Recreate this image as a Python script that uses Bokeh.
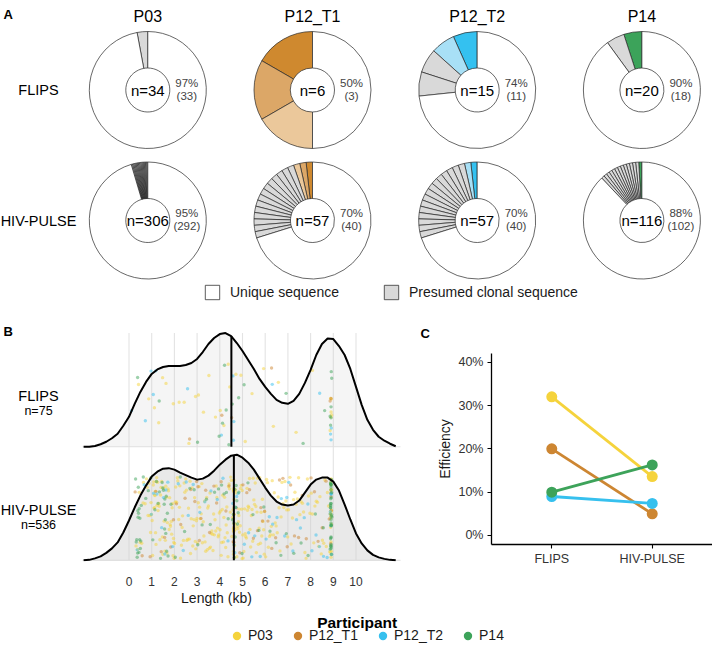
import numpy as np
from bokeh.plotting import figure
from bokeh.models import (Range1d, Label, Legend, LegendItem, FixedTicker,
                          NumeralTickFormatter, ColumnDataSource)
from bokeh.layouts import column, row
from bokeh.embed import file_html
from bokeh.resources import INLINE
from bokeh.core.properties import value

FONT = "Liberation Sans"

# ---------------------------------------------------------------- data
participants = ["P03", "P12_T1", "P12_T2", "P14"]
methods = ["FLIPS", "HIV-PULSE"]
part_colors = ["#F5D33C", "#CD8632", "#36C0EE", "#3DA35A"]

# panel A : donuts
flips_total = [34, 6, 15, 20]
flips_unique = [33, 3, 11, 18]
flips_pct = ["97%", "50%", "74%", "90%"]
flips_shared = [0, 3, 2, 1]
hiv_total = [306, 57, 57, 116]
hiv_unique = [292, 40, 40, 102]
hiv_pct = ["95%", "70%", "70%", "88%"]
hiv_shared = [0, 3, 2, 1]
shade_colors = [[], ["#CF892F", "#DCA767", "#EBC89B"], ["#34C1F0", "#A8E0F6"], ["#3CA35A"]]
clonal_grey = "#D9D9D9"

# panel B : ridge densities (relative heights) on a kb grid
density_kb = [-2.0, -1.75, -1.5, -1.25, -1.0, -0.75, -0.5, -0.25, 0.0, 0.25, 0.5, 0.75,
              1.0, 1.25, 1.5, 1.75, 2.0, 2.25, 2.5, 2.75, 3.0, 3.25, 3.5, 3.75,
              4.0, 4.25, 4.5, 4.75, 5.0, 5.25, 5.5, 5.75, 6.0, 6.25, 6.5, 6.75,
              7.0, 7.25, 7.5, 7.75, 8.0, 8.25, 8.5, 8.75, 9.0, 9.25, 9.5, 9.75,
              10.0, 10.25, 10.5, 10.75, 11.0, 11.25, 11.5, 11.75]
flips_density = [0, 0, 0.8, 2.5, 5, 8.5, 13, 21, 30, 43, 55, 65,
                 73, 77.5, 80, 81, 81, 81, 82, 84, 88, 95, 103, 109,
                 113, 114, 111, 104, 96, 87, 78, 68, 60, 53, 47, 44,
                 43, 46, 53, 64, 77, 92, 103, 108.5, 108, 101, 92, 78,
                 60, 42, 27, 17, 10, 6, 3, 0.5]
hiv_density = [0, 0.5, 2, 4, 7.5, 12, 18, 28, 40, 53, 65, 75,
               84, 89, 92, 92.5, 91, 88, 85.5, 83, 81, 82, 85, 90,
               96, 101, 105, 106, 103, 98, 91, 82, 73, 65, 59, 56,
               55, 56, 60, 68, 76, 81, 83, 83, 79, 70, 56, 41,
               27, 17, 10, 5.5, 3, 1.5, 0.5, 0]
flips_median = 4.51
hiv_median = 4.62
kb_ticks = [0, 1, 2, 3, 4, 5, 6, 7, 8, 9, 10]

# sequence lengths (kb) per participant
flips_len_p03 = [0.42, 0.87, 1.12, 1.31, 1.48, 1.63, 1.95, 2.21, 2.43, 2.64, 2.93, 3.06, 3.28,
                 3.52, 3.81, 4.02, 4.18, 4.37, 4.44, 4.71, 4.93, 5.12, 5.42, 5.93, 6.36, 6.58,
                 7.36, 8.08, 8.86, 8.9, 8.91, 8.93, 8.9, 8.88]
flips_len_p12t1 = [2.67, 4.09, 4.52, 6.28, 8.86, 8.9]
flips_len_p12t2 = [0.11, 0.72, 0.97, 1.07, 1.18, 2.58, 4.07, 4.58, 4.6, 4.62, 6.31, 8.4, 8.88,
                   8.9, 8.91]
flips_len_p14 = [0.38, 1.33, 3.02, 3.97, 4.12, 4.21, 4.28, 4.4, 4.55, 4.83, 5.07, 6.92, 7.67,
                 8.62, 8.86, 8.88, 8.9, 8.9, 8.91, 8.93]

hiv_len_p03 = [
    0.31, 0.38, 0.45, 0.49, 0.56, 0.62, 0.64, 0.71, 0.77, 0.8, 0.84, 0.88, 0.92, 0.95, 0.97, 0.99,
    1.02, 1.04, 1.07, 1.09, 1.1, 1.12, 1.13, 1.15, 1.16, 1.17, 1.19, 1.21, 1.22, 1.24, 1.26,
    1.28, 1.31, 1.33, 1.36, 1.39, 1.41, 1.44, 1.47, 1.49, 1.52, 1.55, 1.58, 1.6, 1.62, 1.65,
    1.67, 1.69, 1.72, 1.74, 1.77, 1.79, 1.81, 1.83, 1.86, 1.88, 1.9, 1.92, 1.94, 1.96, 1.97, 1.99,
    2.01, 2.04, 2.06, 2.1, 2.13, 2.15, 2.19, 2.22, 2.24, 2.27, 2.31, 2.34, 2.36, 2.4, 2.43, 2.46,
    2.5, 2.53, 2.55, 2.59, 2.62, 2.66, 2.69, 2.71, 2.74, 2.78, 2.81, 2.83, 2.86, 2.89, 2.92,
    2.94, 2.97, 2.99,
    3.02, 3.05, 3.09, 3.11, 3.14, 3.18, 3.21, 3.23, 3.27, 3.3, 3.33, 3.35, 3.38, 3.42, 3.45,
    3.47, 3.5, 3.54, 3.57, 3.59, 3.62, 3.65, 3.68, 3.7, 3.73, 3.76, 3.79, 3.82, 3.84, 3.87,
    3.9, 3.93, 3.95, 3.98,
    4.01, 4.03, 4.06, 4.08, 4.11, 4.13, 4.16, 4.18, 4.21, 4.23, 4.26, 4.28, 4.31, 4.33, 4.36,
    4.38, 4.41, 4.43, 4.46, 4.48, 4.51, 4.53, 4.56, 4.58,
    4.6, 4.61, 4.61, 4.62, 4.62, 4.62, 4.62, 4.62, 4.63, 4.63, 4.61, 4.62, 4.62, 4.63, 4.6,
    4.62, 4.61, 4.62, 4.63, 4.62,
    4.65, 4.67, 4.7, 4.72, 4.75, 4.77, 4.8, 4.82, 4.85, 4.87, 4.9, 4.92, 4.94, 4.96, 4.98,
    4.99, 4.69, 4.84,
    5.01, 5.03, 5.06, 5.09, 5.12, 5.14, 5.17, 5.2, 5.22, 5.25, 5.28, 5.31, 5.33, 5.36, 5.39,
    5.42, 5.45, 5.47, 5.5, 5.53, 5.56, 5.59, 5.61, 5.64, 5.67, 5.7, 5.73, 5.76, 5.79, 5.82,
    5.85, 5.88, 5.9, 5.93, 5.96, 5.98,
    6.02, 6.06, 6.1, 6.14, 6.19, 6.23, 6.27, 6.31, 6.36, 6.4, 6.44, 6.48, 6.53, 6.57, 6.61,
    6.65, 6.7, 6.74, 6.78, 6.82, 6.87, 6.91, 6.95, 6.99,
    7.03, 7.09, 7.14, 7.2, 7.25, 7.31, 7.36, 7.42, 7.47, 7.53, 7.58, 7.64, 7.69, 7.75, 7.8,
    7.86, 7.91, 7.97,
    8.03, 8.08, 8.14, 8.19, 8.25, 8.3, 8.36, 8.41, 8.47, 8.52, 8.58, 8.63, 8.69, 8.74, 8.79,
    8.84, 8.88, 8.89, 8.9, 8.9, 8.9, 8.91, 8.9, 8.89, 8.9, 8.91, 8.88, 8.9, 8.9, 8.89, 8.91,
    8.9, 8.9, 8.92, 8.9, 8.89]
hiv_len_p12t1 = [0.27, 0.58, 0.93, 1.18, 1.42, 1.57, 1.84, 2.09, 2.28, 2.47, 2.72, 2.9, 3.04,
                 3.17, 3.38, 3.55, 3.74, 3.86, 4.06, 4.27, 4.41, 4.59, 4.62, 4.73, 4.88, 5.02,
                 5.19, 5.31, 5.48, 5.66, 5.81, 5.97, 6.12, 6.29, 6.46, 6.63, 6.78, 6.97, 7.12,
                 7.29, 7.47, 7.63, 7.81, 8.02, 8.17, 8.33, 8.51, 8.68, 8.82, 8.88, 8.9, 8.9,
                 8.91, 2.98, 5.88, 1.96, 3.1]
hiv_len_p12t2 = [0.36, 0.67, 0.98, 1.23, 1.44, 1.52, 1.58, 1.63, 1.71, 1.92, 2.17, 2.39, 2.61,
                 2.83, 3.12, 3.34, 3.61, 3.89, 4.14, 4.36, 4.57, 4.63, 4.66, 4.69, 4.74, 4.81,
                 5.08, 5.27, 5.54, 5.78, 6.04, 6.18, 6.33, 6.52, 6.71, 6.86, 7.04, 7.22, 7.38,
                 7.55, 7.72, 7.88, 8.06, 8.24, 8.39, 8.57, 8.73, 8.87, 8.89, 8.9, 8.9, 8.91,
                 8.92, 1.08, 2.52, 5.41, 6.95]
hiv_len_p14 = [0.29, 0.32, 0.34, 0.36, 0.38, 0.39, 0.41, 0.42, 0.44, 0.45, 0.47, 0.48, 0.5,
               0.52, 0.54, 0.4, 0.63, 0.74, 0.85, 0.96, 1.05, 1.14, 1.21, 1.28, 1.34, 1.39,
               1.46, 1.49, 1.52, 1.55, 1.57, 1.6, 1.62, 1.64, 1.66, 1.69, 1.72, 1.58,
               1.85, 2.04, 2.26, 2.45, 2.68, 2.87, 3.03, 3.22, 3.41, 3.58, 3.77, 3.94, 4.08,
               4.19, 4.29, 4.37, 4.56, 4.6, 4.62, 4.64, 4.66, 4.68, 4.7, 4.72, 4.75, 4.78,
               4.81, 4.84, 4.98, 5.24, 5.46, 5.72, 5.94, 6.21, 6.48, 6.69, 6.93, 7.26, 7.58,
               7.89, 8.21, 8.56, 8.86, 8.87, 8.88, 8.88, 8.89, 8.89, 8.9, 8.9, 8.9, 8.9, 8.9,
               8.9, 8.91, 8.91, 8.91, 8.92, 8.92, 8.93, 8.87, 8.88, 8.89, 8.9, 8.9, 8.9, 8.91,
               8.91, 8.92, 8.86, 8.88, 8.89, 8.9, 8.9, 8.9, 8.91, 8.93, 8.94]

# panel C : efficiency
eff_flips = [0.32, 0.20, 0.09, 0.10]
eff_hiv = [0.136, 0.05, 0.074, 0.163]
eff_ticks = [0, 0.1, 0.2, 0.3, 0.4]

NAN1 = [np.nan]


def clean(p):
    p.outline_line_color = None
    p.grid.visible = False
    p.frame_align = False
    p.background_fill_color = "white"
    p.border_fill_color = "white"


# ---------------------------------------------------------------- panel A
A_W, A_H = 712, 304
A_UX, A_UY = 164.7, 130.5
pA = figure(width=A_W, height=A_H,
            x_range=Range1d(-147.3 / A_UX, (A_W - 147.3) / A_UX),
            y_range=Range1d(-84 / A_UY, (A_H - 84) / A_UY),
            x_axis_location=None, y_axis_location=None,
            min_border=0, output_backend="svg", toolbar_location=None)
clean(pA)

wx, wy, ws, we, wc = [], [], [], [], []
label_rows = [(flips_total, flips_unique, flips_pct, flips_shared),
              (hiv_total, hiv_unique, hiv_pct, hiv_shared)]
for ri, (tot, uni, pct, shared) in enumerate(label_rows):
    yrow = 1 - ri
    for c in range(len(participants)):
        n_cl = tot[c] - uni[c]
        step = 2 * np.pi / tot[c]
        for k in range(n_cl):
            wx.append(c); wy.append(yrow)
            ws.append(np.pi / 2 + k * step); we.append(np.pi / 2 + (k + 1) * step)
            wc.append(shade_colors[c][k] if k < shared[c] else clonal_grey)
        wx.append(c); wy.append(yrow)
        ws.append(np.pi / 2 + n_cl * step); we.append(np.pi / 2)
        wc.append("white")
wsrc = ColumnDataSource(dict(x=wx, y=wy, s=ws, e=we, c=wc))
pA.annular_wedge(x="x", y="y", inner_radius=22, outer_radius=58.5,
                 inner_radius_units="screen", outer_radius_units="screen",
                 start_angle="s", end_angle="e", fill_color="c",
                 line_color="#262626", line_width=0.7, source=wsrc)

cols = list(range(len(participants)))
pA.text(x=cols, y=[(A_H - 16 - 84) / A_UY] * 4, text=participants, text_font=value(FONT),
        text_font_size="16px", text_align="center", text_baseline="alphabetic",
        text_color="black")
pA.text(x=[(38 - 147.3) / A_UX] * 2, y=[1, 0], text=methods, text_font=value(FONT),
        text_font_size="14.5px", text_align="center", text_baseline="middle",
        text_color="black")
for ri, (tot, uni, pct, shared) in enumerate(label_rows):
    yrow = 1 - ri
    pA.text(x=cols, y=[yrow] * 4, text=[f"n={t}" for t in tot], text_font=value(FONT),
            text_font_size="15px", text_align="center", text_baseline="middle",
            text_color="black")
    pA.text(x=[c + 39 / A_UX for c in cols], y=[yrow + 7.5 / A_UY] * 4, text=pct,
            text_font=value(FONT), text_font_size="11.5px", text_align="center",
            text_baseline="middle", text_color="#444444")
    pA.text(x=[c + 39 / A_UX for c in cols], y=[yrow - 5.5 / A_UY] * 4,
            text=[f"({u})" for u in uni], text_font=value(FONT), text_font_size="11.5px",
            text_align="center", text_baseline="middle", text_color="#444444")

r_u = pA.quad(left=NAN1, right=NAN1, top=NAN1, bottom=NAN1, fill_color="white",
              line_color="#333333", line_width=0.8)
r_c = pA.quad(left=NAN1, right=NAN1, top=NAN1, bottom=NAN1, fill_color=clonal_grey,
              line_color="#333333", line_width=0.8)
legA = Legend(items=[LegendItem(label="Unique sequence", renderers=[r_u]),
                     LegendItem(label="Presumed clonal sequence", renderers=[r_c])],
              orientation="horizontal", location=(203, 3), glyph_width=18, glyph_height=18,
              label_standoff=9, spacing=43, padding=0, margin=0, border_line_color=None,
              background_fill_alpha=0, label_text_font=FONT, label_text_font_size="14px",
              label_height=18, label_text_color="#1a1a1a")
pA.add_layout(legA)
pA.add_layout(Label(x=3, y=A_H - 13.5, x_units="screen", y_units="screen", text="A",
                    text_font=FONT, text_font_size="13px", text_font_style="bold",
                    text_baseline="middle", text_align="left", text_color="black"))

# ---------------------------------------------------------------- panel B
ROW_H = 304
RIDGE_SCALE = 114.0
KB_PX = 22.7
B_W = 432
B_BOTTOM = 46
b_x0 = -128.5 / KB_PX
b_top = (ROW_H - B_BOTTOM) / 114.09 - 0.01
pB = figure(width=B_W, height=ROW_H, x_range=Range1d(b_x0, b_x0 + B_W / KB_PX),
            y_range=Range1d(-0.01, b_top),
            y_axis_location=None, min_border_left=0, min_border_right=0, min_border_top=0,
            min_border_bottom=B_BOTTOM, output_backend="svg", toolbar_location=None)
clean(pB)
xa = pB.xaxis[0]
xa.ticker = FixedTicker(ticks=kb_ticks)
xa.axis_line_color = None
xa.major_tick_line_color = None
xa.major_tick_out = 0
xa.major_tick_in = 0
xa.minor_tick_line_color = None
xa.minor_tick_out = 0
xa.major_label_text_font = FONT
xa.major_label_text_font_size = "12px"
xa.major_label_text_color = "#333333"
xa.major_label_standoff = 15
xa.axis_label = "Length (kb)"
xa.axis_label_text_font = FONT
xa.axis_label_text_font_size = "14px"
xa.axis_label_text_font_style = "normal"
xa.axis_label_text_color = "#1a1a1a"
xa.axis_label_standoff = 1

ridge_left, ridge_right = -2.05, 11.96
grid_top = 1 + max(flips_density) / RIDGE_SCALE
pB.segment(x0=kb_ticks, y0=[0] * len(kb_ticks), x1=kb_ticks, y1=[grid_top] * len(kb_ticks),
           line_color="#E3E3E3", line_width=1.1)
pB.segment(x0=[ridge_left, ridge_left], y0=[0, 1], x1=[ridge_right, ridge_right], y1=[0, 1],
           line_color="#E3E3E3", line_width=1.1)


def jitter(n, seed):
    k = np.arange(n) + 1.0
    return (np.sin(k * 12.9898 + seed * 78.233) * 43758.5453) % 1.0


ridges = [
    (1, flips_density, 0.2, [flips_len_p03, flips_len_p12t1, flips_len_p12t2, flips_len_p14],
     flips_median),
    (0, hiv_density, 0.45, [hiv_len_p03, hiv_len_p12t1, hiv_len_p12t2, hiv_len_p14],
     hiv_median),
]
for gi, (base, dens, falpha, lens, med) in enumerate(ridges):
    top = base + np.array(dens) / RIDGE_SCALE
    pB.varea(x=density_kb, y1=base, y2=top, fill_color="#CFCFCF", fill_alpha=falpha)
    for pi, lst in enumerate(lens):
        yj = base + 0.015 + jitter(len(lst), gi * 4 + pi + 1) * 0.72
        pB.scatter(x=lst, y=yj, size=3.4, fill_color=part_colors[pi], fill_alpha=0.5,
                   line_color=None)
    med_top = base + np.interp(med, density_kb, dens) / RIDGE_SCALE
    pB.segment(x0=[med], y0=[base], x1=[med], y1=[med_top], line_color="black",
               line_width=2)
    pB.line(x=density_kb, y=top, line_color="black", line_width=2)

lab_x = (38 - 128.5) / KB_PX
pB.text(x=[lab_x, lab_x], y=[1.445, 0.445], text=methods, text_font=value(FONT),
        text_font_size="14.5px", text_align="center", text_baseline="middle",
        text_color="black")
pB.text(x=[lab_x, lab_x], y=[1.31, 0.31],
        text=[f"n={sum(flips_total)}", f"n={sum(hiv_total)}"], text_font=value(FONT),
        text_font_size="12.5px", text_align="center", text_baseline="middle",
        text_color="black")
# panel letters B and C (both sit inside this canvas)
pB.text(x=[b_x0 + 3 / KB_PX, b_x0 + 420 / KB_PX], y=[b_top - 27 / 114.09, b_top - 29 / 114.09],
        text=["B", "C"], text_font=value(FONT), text_font_size="13px",
        text_font_style="bold", text_align="left", text_baseline="middle",
        text_color="black")

# ---------------------------------------------------------------- panel C
method_pos = [1, 2]
C_W = 712 - B_W
pC = figure(width=C_W, height=ROW_H, x_range=Range1d(0.4, 2.6),
            y_range=Range1d(-0.0208, 0.4201),
            min_border_left=491 - B_W, min_border_right=0, min_border_top=49,
            min_border_bottom=64, output_backend="svg", toolbar_location=None)
clean(pC)
for ax in (pC.xaxis[0], pC.yaxis[0]):
    ax.axis_line_color = "black"
    ax.axis_line_width = 1.3
    ax.major_tick_line_color = "black"
    ax.major_tick_line_width = 1.1
    ax.major_tick_out = 4
    ax.major_tick_in = 0
    ax.minor_tick_line_color = None
    ax.major_label_text_font = FONT
    ax.major_label_text_font_size = "12.5px"
    ax.major_label_text_color = "#333333"
pC.xaxis.ticker = FixedTicker(ticks=method_pos)
pC.xaxis.major_label_overrides = {m: name for m, name in zip(method_pos, methods)}
pC.xaxis.major_label_standoff = 3
pC.yaxis.ticker = FixedTicker(ticks=eff_ticks)
pC.yaxis.formatter = NumeralTickFormatter(format="0%")
pC.yaxis.major_label_standoff = 4
pC.yaxis.axis_label = "Efficiency"
pC.yaxis.axis_label_text_font = FONT
pC.yaxis.axis_label_text_font_size = "14px"
pC.yaxis.axis_label_text_font_style = "normal"
pC.yaxis.axis_label_text_color = "#1a1a1a"
pC.yaxis.axis_label_standoff = 2

for i, col in enumerate(part_colors):
    ys = [eff_flips[i], eff_hiv[i]]
    pC.line(x=method_pos, y=ys, line_color=col, line_width=2.8)
    pC.scatter(x=method_pos, y=ys, size=11, fill_color=col, line_color=None)

# ---------------------------------------------------------------- shared legend
L_H = 643 - A_H - ROW_H
pL = figure(width=712, height=L_H, x_range=Range1d(0, 1), y_range=Range1d(0, 1),
            x_axis_location=None, y_axis_location=None, min_border=0,
            output_backend="svg", toolbar_location=None)
clean(pL)
items = []
for name, col in zip(participants, part_colors):
    r = pL.scatter(x=NAN1, y=NAN1, size=9, fill_color=col, line_color=None)
    items.append(LegendItem(label=name, renderers=[r]))
legL = Legend(items=items, orientation="horizontal", location=(226, -2.5),
              glyph_width=21, glyph_height=21, label_standoff=1, spacing=14, padding=0,
              margin=0, border_line_color=None, background_fill_alpha=0,
              label_text_font=FONT, label_text_font_size="14px", label_height=21,
              label_text_color="#1a1a1a")
pL.add_layout(legL)
pL.add_layout(Label(x=356.7, y=L_H - 14, x_units="screen", y_units="screen", text="Participant",
                    text_font=FONT, text_font_size="15.5px", text_font_style="bold",
                    text_align="center", text_baseline="alphabetic", text_color="black"))

layout = column(pA, row(pB, pC), pL)
open("out.html", "w").write(file_html(layout, INLINE))
